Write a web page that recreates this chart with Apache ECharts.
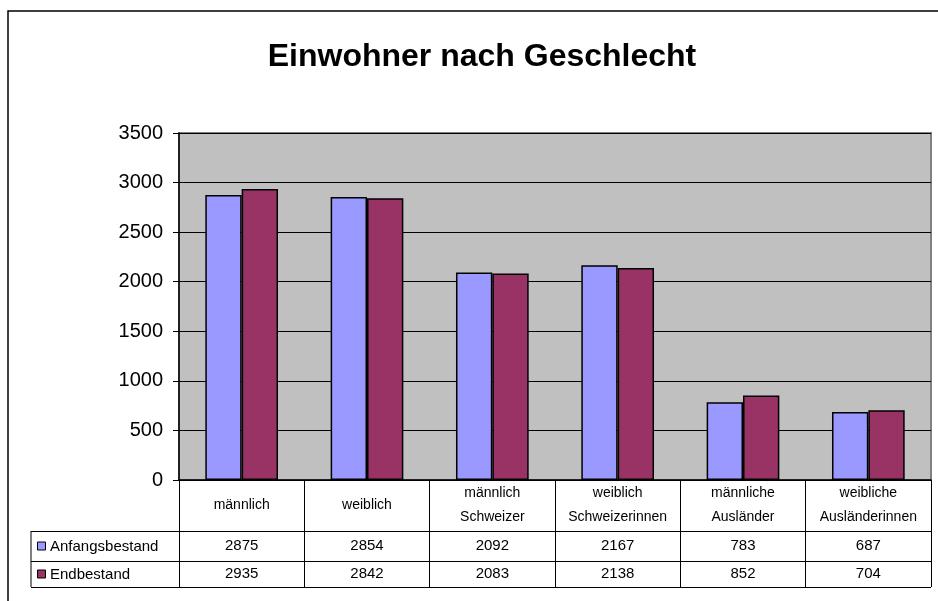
<!DOCTYPE html>
<html>
<head>
<meta charset="utf-8">
<script src="https://cdn.jsdelivr.net/npm/echarts@6/dist/echarts.min.js"></script>
<style>
  html, body { margin: 0; padding: 0; background: #fff; }
  #chart { width: 938px; height: 601px; }
</style>
</head>
<body>
<div id="chart"></div>
<script>
// Daten
var kategorien = ['männlich', 'weiblich', 'männlich\nSchweizer', 'weiblich\nSchweizerinnen', 'männliche\nAusländer', 'weibliche\nAusländerinnen'];
var anfangsbestand = [2875, 2854, 2092, 2167, 783, 687];
var endbestand = [2935, 2842, 2083, 2138, 852, 704];
var reihen = ['Anfangsbestand', 'Endbestand'];
var farben = ['#9999FF', '#993366'];

var FONT = 'Liberation Sans, Arial, sans-serif';

// Plotbereich (Pixel)
var G = { left: 179, top: 133, right: 931, bottom: 480 };
var rowLines = [531, 561, 587];
var tableLeft = 31;

var chart = echarts.init(document.getElementById('chart'));

// Tabellenlinien + Zeilenbeschriftung
var graphic = [
  { type: 'rect', shape: { x: 8, y: 11, width: 960, height: 620 }, style: { fill: null, stroke: '#000', lineWidth: 1.5 }, silent: true },
  { type: 'line', shape: { x1: tableLeft, y1: rowLines[0], x2: tableLeft, y2: rowLines[2] }, style: { stroke: '#000', lineWidth: 1 } }
];
rowLines.forEach(function (y) {
  graphic.push({ type: 'line', shape: { x1: tableLeft, y1: y + 0.5, x2: G.right, y2: y + 0.5 }, style: { stroke: '#000', lineWidth: 1 } });
});
reihen.forEach(function (name, i) {
  var cy = (rowLines[i] + rowLines[i + 1]) / 2;
  graphic.push({ type: 'rect', shape: { x: 37.5, y: cy - 4, width: 8, height: 8 }, style: { fill: farben[i], stroke: '#000', lineWidth: 1 } });
  graphic.push({ type: 'text', x: 50, y: cy + 1, style: { text: name, fill: '#000', font: '15px ' + FONT, textVerticalAlign: 'middle' } });
});

var option = {
  backgroundColor: '#fff',
  animation: false,
  title: {
    text: 'Einwohner nach Geschlecht',
    left: 477,
    top: 36,
    textAlign: 'center',
    textStyle: { fontFamily: FONT, fontSize: 32, fontWeight: 'bold', color: '#000' }
  },
  grid: {
    left: G.left, top: G.top, width: G.right - G.left, height: G.bottom - G.top,
    show: true, backgroundColor: '#C0C0C0', borderColor: '#808080', borderWidth: 2
  },
  xAxis: [
    {
      type: 'category', data: kategorien, position: 'bottom',
      axisLine: { lineStyle: { color: '#000', width: 1.5 } },
      axisTick: { show: true, length: rowLines[2] - G.bottom, lineStyle: { color: '#000', width: 1 } },
      axisLabel: { interval: 0, margin: 25, verticalAlign: 'middle', fontSize: 14, lineHeight: 24, color: '#000', fontFamily: FONT }
    },
    {
      type: 'category', data: kategorien, position: 'bottom', offset: rowLines[0] - G.bottom,
      axisLine: { show: false }, axisTick: { show: false },
      axisLabel: { interval: 0, margin: 15, verticalAlign: 'middle', fontSize: 15, color: '#000', fontFamily: FONT,
        formatter: function (v, i) { return String(anfangsbestand[i]); } }
    },
    {
      type: 'category', data: kategorien, position: 'bottom', offset: rowLines[1] - G.bottom,
      axisLine: { show: false }, axisTick: { show: false },
      axisLabel: { interval: 0, margin: 13, verticalAlign: 'middle', fontSize: 15, color: '#000', fontFamily: FONT,
        formatter: function (v, i) { return String(endbestand[i]); } }
    }
  ],
  yAxis: {
    type: 'value', min: 0, max: 3500, interval: 500,
    axisLine: { show: true, lineStyle: { color: '#000', width: 1.5 } },
    axisTick: { show: true, length: 6, lineStyle: { color: '#000' } },
    axisLabel: { margin: 16, fontSize: 20, color: '#000', fontFamily: FONT,
      formatter: function (v) { return String(v); } },
    splitLine: { lineStyle: { color: '#000', width: 1 } }
  },
  series: [
    {
      name: reihen[0], type: 'bar', data: anfangsbestand, barGap: '0%', barCategoryGap: '42%',
      itemStyle: { color: farben[0], borderColor: '#000', borderWidth: 1.5 }
    },
    {
      name: reihen[1], type: 'bar', data: endbestand,
      itemStyle: { color: farben[1], borderColor: '#000', borderWidth: 1.5 }
    }
  ],
  graphic: graphic
};

chart.setOption(option);
</script>
</body>
</html>
